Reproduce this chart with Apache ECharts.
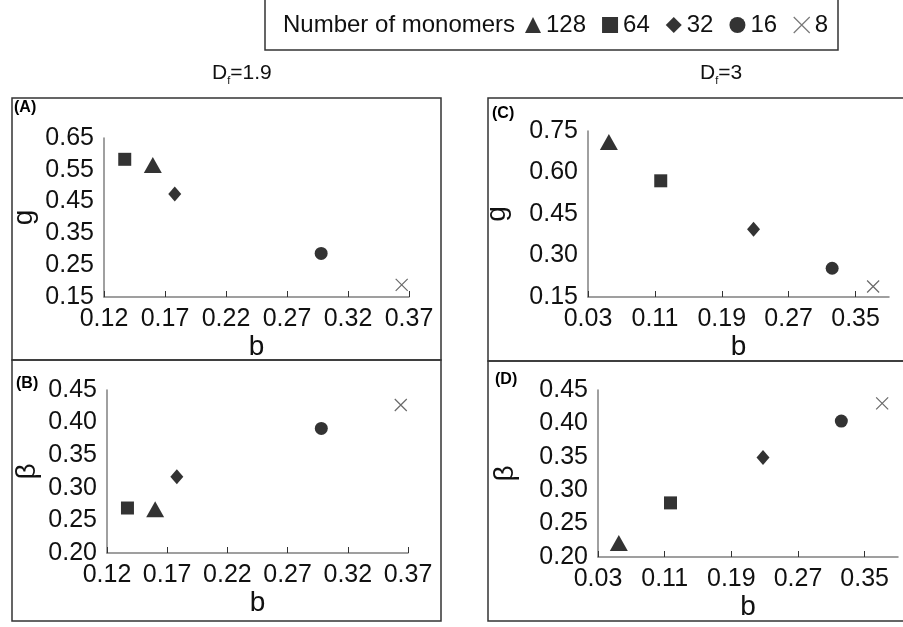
<!DOCTYPE html>
<html>
<head>
<meta charset="utf-8">
<script src="https://cdn.jsdelivr.net/npm/echarts@6/dist/echarts.min.js"></script>
<style>
  html, body { margin: 0; padding: 0; background: #fff; }
  #chart { width: 903px; height: 627px; }
</style>
</head>
<body>
<div id="chart"></div>
<script>
// Number of monomers per aggregate (one series each)
const counts = ['128', '64', '32', '16', '8'];
const symbols = ['triangle', 'rect', 'diamond', 'circle', 'path://M0,0L10,10M10,0L0,10'];
const symbolSizes = [[18, 16], 13, [13, 15], 13, 12];

// Fractal dimension Df = 1.9
const bDf19 = [0.160, 0.137, 0.178, 0.298, 0.364];
const gDf19 = [0.565, 0.583, 0.474, 0.287, 0.188];
const betaDf19 = [0.267, 0.269, 0.317, 0.391, 0.427];

// Fractal dimension Df = 3
const bDf3 = [0.055, 0.117, 0.228, 0.322, 0.371];
const gDf3 = [0.710, 0.570, 0.395, 0.254, 0.188];
const betaDf3 = [0.221, 0.281, 0.349, 0.4035, 0.430];

// Tick labels of the Df = 3 b axes (axis runs on to 0.39)
const bTicksDf3 = [0.03, 0.11, 0.19, 0.27, 0.35];

const FONT = "'Liberation Sans', Arial, sans-serif";
const AXIS_GREY = '#808080';
const LABEL_SIZE = 25;

const chart = echarts.init(document.getElementById('chart'));

function xAxis(gridIndex, min, max, interval, custom) {
  const ax = {
    type: 'value', gridIndex, min, max, interval,
    name: 'b', nameLocation: 'middle', nameGap: 32,
    nameTextStyle: { fontSize: 28, color: '#111', fontFamily: FONT },
    axisLine: { onZero: false, lineStyle: { color: AXIS_GREY, width: 1.5 } },
    axisTick: { show: true, inside: true, length: 6, lineStyle: { color: '#333', width: 1 } },
    axisLabel: { fontSize: LABEL_SIZE, color: '#111', fontFamily: FONT, margin: 10,
      formatter: v => v.toFixed(2) },
    splitLine: { show: false }
  };
  if (custom) {
    ax.axisTick.customValues = custom;
    ax.axisLabel.customValues = custom;
  }
  return ax;
}

function yAxis(gridIndex, name, min, max, interval, nameGap) {
  return {
    type: 'value', gridIndex, min, max, interval,
    name, nameLocation: 'middle', nameRotate: 90, nameGap,
    nameTextStyle: { fontSize: 28, color: '#111', fontFamily: FONT },
    axisLine: { show: true, onZero: false, lineStyle: { color: AXIS_GREY, width: 1.5 } },
    axisTick: { show: false },
    axisLabel: { fontSize: LABEL_SIZE, color: '#111', fontFamily: FONT, margin: 10,
      formatter: v => v.toFixed(2) },
    splitLine: { show: false }
  };
}

function panelSeries(gridIndex, bVals, yVals) {
  return counts.map((name, i) => {
    const cross = i === 4;
    return {
      type: 'scatter', name,
      xAxisIndex: gridIndex, yAxisIndex: gridIndex,
      symbol: symbols[i], symbolSize: symbolSizes[i],
      itemStyle: cross
        ? { color: 'rgba(0,0,0,0)', borderColor: '#444', borderWidth: 1.2 }
        : { color: '#000' },
      data: [[bVals[i], yVals[i]]],
      silent: true
    };
  });
}

function box(x, y, w, h) {
  return { type: 'rect', shape: { x, y, width: w, height: h }, silent: true,
    style: { fill: 'none', stroke: '#333', lineWidth: 1.5 } };
}

function panelTag(text, x, y) {
  return { type: 'text', x, y, silent: true,
    style: { text, fontSize: 16, fontWeight: 'bold', fill: '#000', fontFamily: FONT } };
}

function dfTitle(value, x, y) {
  return { type: 'text', x, y, silent: true,
    style: {
      text: '{d|D}{s|f}{d|=' + value + '}',
      fontFamily: FONT,
      rich: {
        d: { fontSize: 21, fill: '#111', fontFamily: FONT, lineHeight: 23, verticalAlign: 'top' },
        s: { fontSize: 11, fill: '#111', fontFamily: FONT, lineHeight: 11, padding: [12, 0, 0, 0], verticalAlign: 'top' }
      }
    } };
}

const option = {
  animation: false,
  backgroundColor: '#fff',
  textStyle: { fontFamily: FONT },
  grid: [
    { left: 104, top: 138, width: 305, height: 159 },
    { left: 107, top: 390, width: 301, height: 163 },
    { left: 588, top: 131, width: 301, height: 166 },
    { left: 598, top: 390, width: 300, height: 167 }
  ],
  xAxis: [
    xAxis(0, 0.12, 0.37, 0.05),
    xAxis(1, 0.12, 0.37, 0.05),
    xAxis(2, 0.03, 0.39, 0.08, bTicksDf3),
    xAxis(3, 0.03, 0.39, 0.08, bTicksDf3)
  ],
  yAxis: [
    yAxis(0, 'g', 0.15, 0.65, 0.1, 66),
    yAxis(1, 'β', 0.20, 0.45, 0.05, 66),
    yAxis(2, 'g', 0.15, 0.75, 0.15, 77),
    yAxis(3, 'β', 0.20, 0.45, 0.05, 79)
  ],
  legend: {
    left: 520, top: 8,
    itemWidth: 16, itemHeight: 16, itemGap: 16,
    textStyle: { fontSize: 24, color: '#111', fontFamily: FONT },
    selectedMode: false,
    data: counts.map((name, i) => ({
      name, icon: symbols[i],
      itemStyle: i === 4
        ? { color: 'rgba(0,0,0,0)', borderColor: '#555', borderWidth: 1.2 }
        : { color: '#000', borderWidth: 0 }
    }))
  },
  graphic: [
    box(265, -2, 573, 52),
    { type: 'text', x: 283, y: 13, silent: true,
      style: { text: 'Number of monomers', fontSize: 24, fill: '#111', fontFamily: FONT } },
    dfTitle('1.9', 212, 63),
    dfTitle('3', 700, 63),
    box(12, 98, 429, 262),
    box(12, 360, 429, 261),
    box(488, 98, 420, 263),
    box(488, 361, 420, 260),
    panelTag('(A)', 14, 100),
    panelTag('(B)', 16, 376),
    panelTag('(C)', 492, 106),
    panelTag('(D)', 495, 372)
  ],
  series: [
    ...panelSeries(0, bDf19, gDf19),
    ...panelSeries(1, bDf19, betaDf19),
    ...panelSeries(2, bDf3, gDf3),
    ...panelSeries(3, bDf3, betaDf3)
  ]
};

chart.setOption(option);
</script>
</body>
</html>
